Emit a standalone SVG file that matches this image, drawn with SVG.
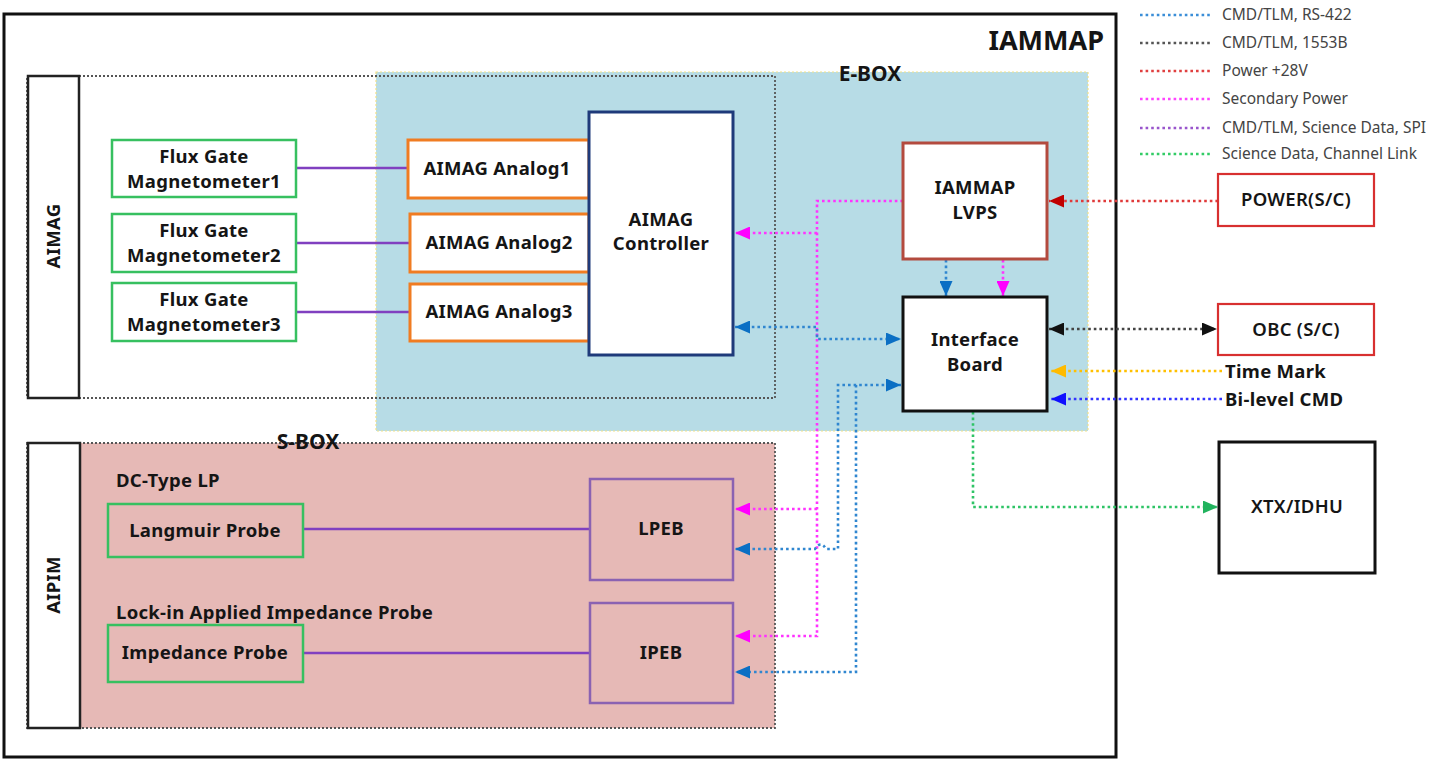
<svg xmlns="http://www.w3.org/2000/svg" width="1438" height="765" viewBox="0 0 1438 765">
<style>
text{font-family:"Noto Sans","Open Sans","Liberation Sans",sans-serif;fill:#151515}
.b{font-weight:bold;font-size:18.5px;letter-spacing:0.3px}
.lg{font-size:15.5px;fill:#444}
.box{fill:#fff}
.grn{stroke:#37c060;stroke-width:2.5}
.org{stroke:#f07c22;stroke-width:3}
.dot{fill:none;stroke-width:2.6;stroke-dasharray:2.6 3}
.sol{fill:none;stroke:#8040c0;stroke-width:2.5}
</style>
<defs>
<marker id="aBlue" markerUnits="userSpaceOnUse" markerWidth="15" markerHeight="13" refX="15" refY="6.5" orient="auto-start-reverse"><path d="M0,0 L15,6.5 L0,13 z" fill="#0b6fc4"/></marker>
<marker id="aMag" markerUnits="userSpaceOnUse" markerWidth="15" markerHeight="13" refX="15" refY="6.5" orient="auto-start-reverse"><path d="M0,0 L15,6.5 L0,13 z" fill="#ff00ff"/></marker>
<marker id="aRed" markerUnits="userSpaceOnUse" markerWidth="15" markerHeight="13" refX="15" refY="6.5" orient="auto-start-reverse"><path d="M0,0 L15,6.5 L0,13 z" fill="#c00000"/></marker>
<marker id="aBlk" markerUnits="userSpaceOnUse" markerWidth="15" markerHeight="13" refX="15" refY="6.5" orient="auto-start-reverse"><path d="M0,0 L15,6.5 L0,13 z" fill="#111"/></marker>
<marker id="aYel" markerUnits="userSpaceOnUse" markerWidth="15" markerHeight="13" refX="15" refY="6.5" orient="auto-start-reverse"><path d="M0,0 L15,6.5 L0,13 z" fill="#ffbb00"/></marker>
<marker id="aBl2" markerUnits="userSpaceOnUse" markerWidth="15" markerHeight="13" refX="15" refY="6.5" orient="auto-start-reverse"><path d="M0,0 L15,6.5 L0,13 z" fill="#1010ff"/></marker>
<marker id="aGrn" markerUnits="userSpaceOnUse" markerWidth="15" markerHeight="13" refX="15" refY="6.5" orient="auto-start-reverse"><path d="M0,0 L15,6.5 L0,13 z" fill="#22b35e"/></marker>
</defs>
<rect width="1438" height="765" fill="#fff"/>

<!-- Outer IAMMAP box -->
<g id="iammap">
<rect x="4" y="14" width="1112" height="743" fill="none" stroke="#111" stroke-width="3"/>
<text x="1104" y="50" text-anchor="end" style="font-weight:bold;font-size:27px">IAMMAP</text>
</g>

<!-- E-BOX -->
<g id="ebox">
<rect x="376" y="72" width="712" height="359" fill="#b7dce6" stroke="#f2e28a" stroke-width="1.2" stroke-dasharray="2 2"/>
<text x="870" y="81" text-anchor="middle" style="font-weight:bold;font-size:21px">E-BOX</text>
</g>

<!-- AIMAG group outline -->
<g id="aimag">
<rect x="27" y="76" width="748" height="322" fill="none" stroke="#555" stroke-width="1.8" stroke-dasharray="2 2"/>
<rect x="28" y="76" width="51" height="322" fill="#fff" stroke="#222" stroke-width="2.5"/>
<text transform="translate(60,236) rotate(-90)" text-anchor="middle" class="b">AIMAG</text>
</g>

<!-- S-BOX -->
<g id="sbox">
<rect x="27" y="443" width="748" height="285" fill="#e6b9b6" stroke="#555" stroke-width="1.8" stroke-dasharray="2 2"/>
<rect x="28" y="443" width="52" height="285" fill="#fff" stroke="#222" stroke-width="2.5"/>
<text transform="translate(60,585) rotate(-90)" text-anchor="middle" class="b">AIPIM</text>
<text x="308" y="449" text-anchor="middle" style="font-weight:bold;font-size:21px">S-BOX</text>
<text x="116" y="487" class="b">DC-Type LP</text>
<text x="116" y="619" class="b">Lock-in Applied Impedance Probe</text>
</g>

<!-- Connectors -->
<g id="connectors">
<path class="sol" d="M296,168 H408"/>
<path class="sol" d="M296,243 H410"/>
<path class="sol" d="M296,312 H410"/>
<path class="sol" d="M303,529 H590" stroke-width="2"/>
<path class="sol" d="M303,653 H590" stroke-width="2"/>

<!-- secondary power -->
<path class="dot" stroke="#ff33ff" d="M903,201 H817 V636 H735" marker-end="url(#aMag)"/>
<path class="dot" stroke="#ff33ff" d="M817,233 H735" marker-end="url(#aMag)"/>
<path class="dot" stroke="#ff33ff" d="M817,509 H735" marker-end="url(#aMag)"/>
<path class="dot" stroke="#ff33ff" d="M1003,260 V296" marker-end="url(#aMag)"/>

<!-- RS-422 -->
<path class="dot" stroke="#2f86d0" d="M735,327 H817 V339 H901" marker-start="url(#aBlue)" marker-end="url(#aBlue)"/>
<path class="dot" stroke="#2f86d0" d="M901,385 H838 V549 H826 Q821,540 815,549 H735" marker-start="url(#aBlue)" marker-end="url(#aBlue)"/>
<path class="dot" stroke="#2f86d0" d="M856,385 V672 H735" marker-end="url(#aBlue)"/>
<path class="dot" stroke="#2f86d0" d="M946,260 V296" marker-end="url(#aBlue)"/>

<!-- Power +28V -->
<path class="dot" stroke="#e03a3a" d="M1218,201 H1049" marker-end="url(#aRed)"/>
<!-- 1553B -->
<path class="dot" stroke="#444" d="M1049,329 H1217" marker-start="url(#aBlk)" marker-end="url(#aBlk)"/>
<!-- Time mark -->
<path class="dot" stroke="#ffc000" d="M1222,371 H1051" marker-end="url(#aYel)"/>
<!-- Bi-level CMD -->
<path class="dot" stroke="#3333ff" d="M1222,399 H1051" marker-end="url(#aBl2)"/>
<!-- Science data -->
<path class="dot" stroke="#2ec466" d="M973,412 V507 H1218" marker-end="url(#aGrn)"/>
</g>

<!-- Flux gate magnetometers -->
<g id="fgm1"><rect class="box grn" x="112" y="140" width="184" height="57"/>
<text x="204" y="163" text-anchor="middle" class="b">Flux Gate</text><text x="204" y="188" text-anchor="middle" class="b">Magnetometer1</text></g>
<g id="fgm2"><rect class="box grn" x="112" y="214" width="184" height="58"/>
<text x="204" y="237" text-anchor="middle" class="b">Flux Gate</text><text x="204" y="262" text-anchor="middle" class="b">Magnetometer2</text></g>
<g id="fgm3"><rect class="box grn" x="112" y="283" width="184" height="58"/>
<text x="204" y="306" text-anchor="middle" class="b">Flux Gate</text><text x="204" y="331" text-anchor="middle" class="b">Magnetometer3</text></g>

<!-- AIMAG analog boards -->
<g id="analog1"><rect class="box org" x="408" y="140" width="181" height="58"/>
<text x="497" y="175" text-anchor="middle" class="b">AIMAG Analog1</text></g>
<g id="analog2"><rect class="box org" x="410" y="214" width="179" height="58"/>
<text x="499" y="249" text-anchor="middle" class="b">AIMAG Analog2</text></g>
<g id="analog3"><rect class="box org" x="410" y="284" width="179" height="57"/>
<text x="499" y="318" text-anchor="middle" class="b">AIMAG Analog3</text></g>

<!-- AIMAG controller -->
<g id="controller"><rect x="589" y="112" width="144" height="243" fill="#fff" stroke="#1f3a7a" stroke-width="3"/>
<text x="661" y="226" text-anchor="middle" class="b">AIMAG</text><text x="661" y="250" text-anchor="middle" class="b">Controller</text></g>

<!-- LVPS -->
<g id="lvps"><rect x="903" y="143" width="144" height="116" fill="#fff" stroke="#b34a3e" stroke-width="3"/>
<text x="975" y="194" text-anchor="middle" class="b">IAMMAP</text><text x="975" y="219" text-anchor="middle" class="b">LVPS</text></g>

<!-- Interface board -->
<g id="interface"><rect x="903" y="297" width="144" height="114" fill="#fff" stroke="#111" stroke-width="3"/>
<text x="975" y="346" text-anchor="middle" class="b">Interface</text><text x="975" y="371" text-anchor="middle" class="b">Board</text></g>

<!-- AIPIM probes -->
<g id="langmuir"><rect x="108" y="504" width="195" height="53" fill="#e6b9b6" class="grn"/>
<text x="205" y="537" text-anchor="middle" class="b">Langmuir Probe</text></g>
<g id="impedance"><rect x="108" y="625" width="195" height="57" fill="#e6b9b6" class="grn"/>
<text x="205" y="659" text-anchor="middle" class="b">Impedance Probe</text></g>
<g id="lpeb"><rect x="590" y="479" width="143" height="101" fill="#e6b9b6" stroke="#8a62b2" stroke-width="2.5"/>
<text x="661" y="535" text-anchor="middle" class="b">LPEB</text></g>
<g id="ipeb"><rect x="590" y="603" width="143" height="100" fill="#e6b9b6" stroke="#8a62b2" stroke-width="2.5"/>
<text x="661" y="659" text-anchor="middle" class="b">IPEB</text></g>

<!-- External -->
<g id="power"><rect x="1218" y="174" width="156" height="52" fill="#fff" stroke="#d83030" stroke-width="2.2"/>
<text x="1296" y="206" text-anchor="middle" class="b" style="font-weight:600">POWER(S/C)</text></g>
<g id="obc"><rect x="1218" y="304" width="156" height="51" fill="#fff" stroke="#d83030" stroke-width="2.2"/>
<text x="1296" y="336" text-anchor="middle" class="b" style="font-weight:600">OBC (S/C)</text></g>
<g id="timemark"><text x="1225" y="378" class="b">Time Mark</text></g>
<g id="bilevel"><text x="1225" y="406" class="b">Bi-level CMD</text></g>
<g id="xtx"><rect x="1219" y="442" width="156" height="131" fill="#fff" stroke="#111" stroke-width="3"/>
<text x="1297" y="513" text-anchor="middle" class="b" style="font-weight:600">XTX/IDHU</text></g>

<!-- Legend -->
<g id="legend">
<path class="dot" stroke="#3b8ed8" stroke-width="2.2" d="M1140,15 H1210"/>
<path class="dot" stroke="#555" stroke-width="2.2" d="M1140,43 H1210"/>
<path class="dot" stroke="#e04040" stroke-width="2.2" d="M1140,71 H1210"/>
<path class="dot" stroke="#ff44ff" stroke-width="2.2" d="M1140,99 H1210"/>
<path class="dot" stroke="#9955cc" stroke-width="2.2" d="M1140,128 H1210"/>
<path class="dot" stroke="#33cc66" stroke-width="2.2" d="M1140,154 H1210"/>
<text x="1222" y="20" class="lg">CMD/TLM, RS-422</text>
<text x="1222" y="48" class="lg">CMD/TLM, 1553B</text>
<text x="1222" y="76" class="lg">Power  +28V</text>
<text x="1222" y="104" class="lg">Secondary Power</text>
<text x="1222" y="133" class="lg">CMD/TLM, Science Data, SPI</text>
<text x="1222" y="159" class="lg">Science Data, Channel Link</text>
</g>
</svg>
